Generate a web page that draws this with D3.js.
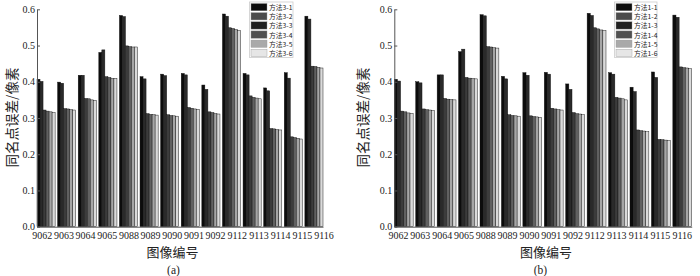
<!DOCTYPE html>
<html><head><meta charset="utf-8">
<script src="https://cdn.jsdelivr.net/npm/d3@7"></script>
<style>
html,body{margin:0;padding:0;background:#fff;}
svg{display:block;}
</style></head>
<body>
<svg id="chart" width="700" height="276"></svg>
<script>
// ---- data ----
const categories = ["9062","9063","9064","9065","9088","9089","9090","9091","9092","9112","9113","9114","9115","9116"];
const yTicks = [0.0,0.1,0.2,0.3,0.4,0.5,0.6];
const legendA = ["方法3-1","方法3-2","方法3-3","方法3-4","方法3-5","方法3-6"];
const legendB = ["方法1-1","方法1-2","方法1-3","方法1-4","方法1-5","方法1-6"];

const a1 = [0.407,0.399,0.418,0.481,0.583,0.414,0.421,0.423,0.391,0.587,0.423,0.383,0.425,0.581];
const a2 = [0.401,0.396,0.418,0.488,0.580,0.408,0.417,0.419,0.379,0.581,0.419,0.375,0.410,0.573];
const a3 = [0.322,0.326,0.354,0.414,0.499,0.312,0.309,0.329,0.317,0.549,0.361,0.271,0.248,0.443];
const a4 = [0.319,0.325,0.353,0.412,0.497,0.310,0.307,0.327,0.315,0.547,0.357,0.270,0.246,0.442];
const a5 = [0.317,0.323,0.350,0.409,0.496,0.309,0.306,0.325,0.312,0.544,0.355,0.268,0.244,0.440];
const a6 = [0.315,0.322,0.349,0.409,0.496,0.308,0.305,0.324,0.311,0.542,0.353,0.267,0.242,0.438];

const b1 = [0.407,0.400,0.419,0.483,0.585,0.415,0.425,0.426,0.394,0.589,0.425,0.385,0.427,0.584];
const b2 = [0.402,0.397,0.419,0.490,0.582,0.408,0.418,0.421,0.379,0.583,0.421,0.373,0.412,0.578];
const b3 = [0.319,0.325,0.354,0.412,0.497,0.309,0.306,0.327,0.315,0.549,0.357,0.267,0.241,0.441];
const b4 = [0.317,0.323,0.352,0.410,0.496,0.307,0.304,0.325,0.312,0.546,0.355,0.265,0.240,0.439];
const b5 = [0.314,0.322,0.351,0.409,0.494,0.306,0.303,0.323,0.311,0.543,0.353,0.264,0.239,0.438];
const b6 = [0.313,0.321,0.350,0.408,0.493,0.305,0.302,0.322,0.309,0.541,0.350,0.262,0.238,0.436];

// ---- style ----
const barColors = ["#0c0c0c","#2a2a2a","#3c3c3c","#616161","#a6a6a6","#dadada"];
const swatchColors = ["#0d0d0d","#4b4b4b","#202020","#505050","#a9a9a9","#e6e6e6"];
const serif = "'Liberation Serif','Times New Roman',serif";
const cjk = "'Noto Sans CJK SC','Noto Sans CJK JP',sans-serif";

const svg = d3.select("#chart");

function panel(cfg){
  const g = svg.append("g");
  const x0 = d3.scaleBand().domain(categories).range([cfg.x0, cfg.x1]).paddingInner(0.12).paddingOuter(0.0);
  const x1 = d3.scaleBand().domain(d3.range(cfg.series.length)).range([0, x0.bandwidth()]);
  const y = d3.scaleLinear().domain([0,0.6]).range([cfg.yb, cfg.yt]);

  // bars
  categories.forEach((c,i)=>{
    const gg = g.append("g").attr("transform",`translate(${x0(c)},0)`);
    cfg.series.forEach((s,j)=>{
      gg.append("rect")
        .attr("x", x1(j)).attr("width", x1.bandwidth())
        .attr("y", y(s[i])).attr("height", y(0)-y(s[i]))
        .attr("fill", barColors[j]).attr("stroke","#111").attr("stroke-width",0.45);
    });
  });

  // y axis
  const ya = d3.axisLeft(y).tickValues(yTicks).tickFormat(d3.format(".1f")).tickSizeInner(-3).tickSizeOuter(0).tickPadding(2);
  const yg = g.append("g").attr("transform",`translate(${cfg.x0},0)`).call(ya);
  yg.select(".domain").attr("stroke","#555").attr("stroke-width",1);
  yg.selectAll(".tick line").attr("stroke","#555");
  yg.selectAll("text").attr("font-family",serif).attr("font-size",10).attr("fill","#222");

  // x axis line
  const xa = d3.axisBottom(x0).tickSize(0).tickFormat("");
  const xg = g.append("g").attr("transform",`translate(0,${cfg.yb})`).call(xa);
  xg.select(".domain").attr("stroke","#555").attr("stroke-width",1);

  // x tick labels (spread wider than bars, as in reference)
  const xl = d3.scalePoint().domain(categories).range([cfg.lx0, cfg.lx1]);
  const xla = d3.axisBottom(xl).tickSize(0).tickPadding(0);
  const xlg = g.append("g").attr("transform",`translate(0,${cfg.yb+5.5})`).call(xla);
  xlg.select(".domain").remove();
  xlg.selectAll("text").attr("font-family",serif).attr("font-size",10).attr("fill","#222").attr("dy","0.71em");

  // titles
  g.append("text").attr("transform",`translate(${cfg.ytx},${cfg.yty}) rotate(-90)`)
    .attr("text-anchor","middle").attr("dominant-baseline","central")
    .attr("font-family",cjk).attr("font-size",13.5).attr("fill","#222").text("同名点误差/像素");
  g.append("text").attr("x",cfg.xtx).attr("y",257).attr("text-anchor","middle")
    .attr("font-family",cjk).attr("font-size",13).attr("fill","#222").text("图像编号");
  g.append("text").attr("x",cfg.subx).attr("y",273.5).attr("text-anchor","middle")
    .attr("font-family",serif).attr("font-size",11.5).attr("fill","#222").text(cfg.sub);

  // legend
  const lg = g.append("g").attr("transform",`translate(${cfg.lgx},${cfg.lgy})`);
  lg.append("rect").attr("x",0).attr("y",0).attr("width",cfg.lgw).attr("height",55.5)
    .attr("fill","#fff").attr("stroke","#ccc").attr("stroke-width",0.8);
  const ly = d3.scaleBand().domain(d3.range(cfg.legend.length)).range([1.5,54.5]).paddingInner(0.2);
  cfg.legend.forEach((t,j)=>{
    lg.append("rect").attr("x",1.5).attr("y",ly(j)).attr("width",16).attr("height",ly.bandwidth())
      .attr("fill",swatchColors[j]).attr("stroke","#999").attr("stroke-width",0.4);
    lg.append("text").attr("x",19.5).attr("y",ly(j)+ly.bandwidth()/2).attr("dominant-baseline","central")
      .attr("font-family",cjk).attr("font-size",6.8).attr("fill","#222").text(t);
  });
}

panel({x0:37, x1:323, yb:226.7, yt:9.3, lx0:41.7, lx1:323.5, ytx:10.5, yty:117.5, xtx:172.5, subx:173.5, sub:"(a)",
       series:[a1,a2,a3,a4,a5,a6], legend:legendA, lgx:249.5, lgy:2, lgw:43.5});
panel({x0:394.3, x1:691.7, yb:226.7, yt:9.3, lx0:398, lx1:681.7, ytx:362, yty:117.5, xtx:546, subx:540.5, sub:"(b)",
       series:[b1,b2,b3,b4,b5,b6], legend:legendB, lgx:614.5, lgy:2, lgw:42.5});
</script>
</body></html>
